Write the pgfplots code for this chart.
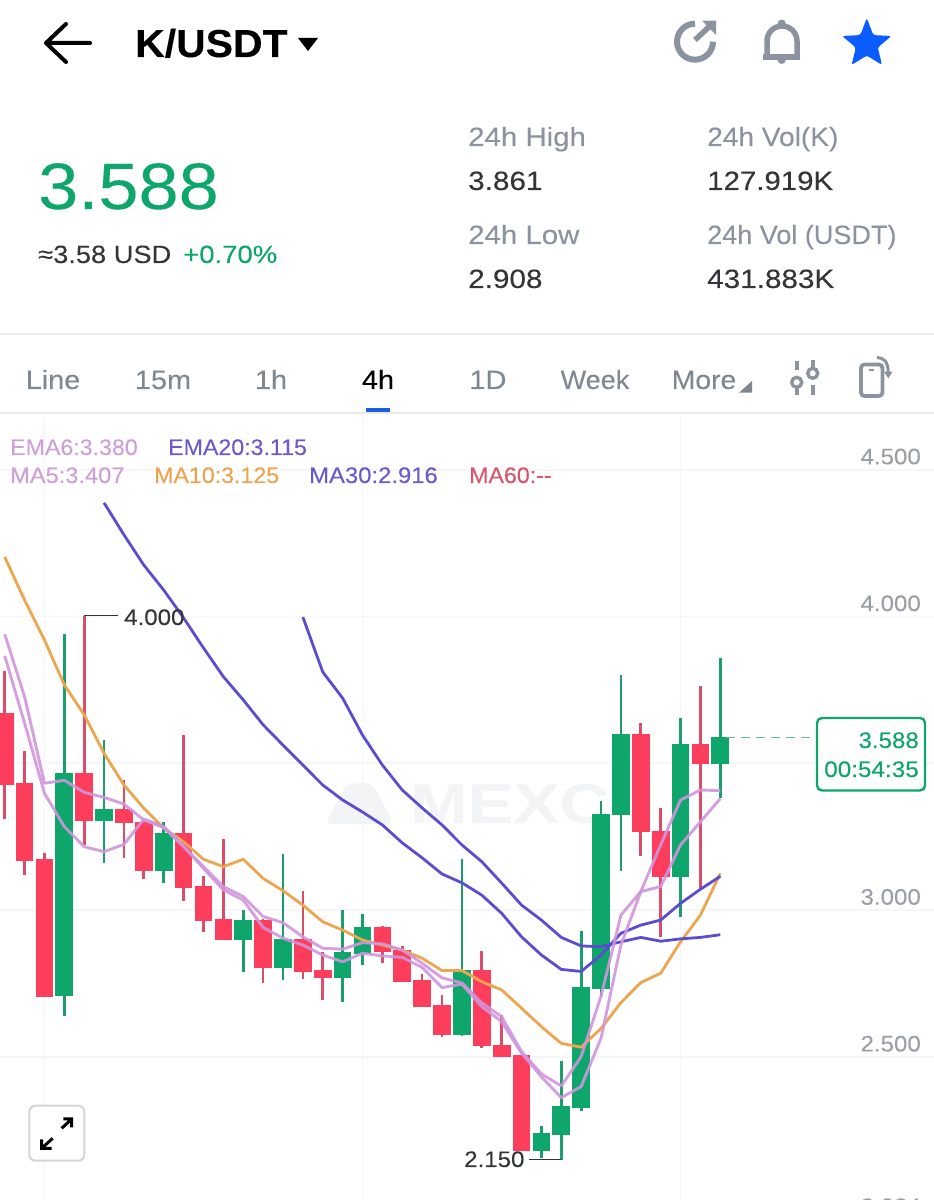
\documentclass[border=0pt]{standalone}
\usepackage{fontspec}
\setmainfont{Liberation Sans}[FakeBold=0.12]
\usepackage{graphicx}
\usepackage{pgfplots}
\usepackage{pgfplotstable}
\pgfplotsset{compat=1.18}
\definecolor{upg}{HTML}{0EA66B}
\definecolor{dnr}{HTML}{FD3D5C}
\definecolor{wickupg}{HTML}{1A9E6C}
\definecolor{wickdnr}{HTML}{DB4E69}
\definecolor{cpink}{HTML}{D095DE}
\definecolor{corange}{HTML}{EDA64F}
\definecolor{cblue}{HTML}{5B4DCF}
\definecolor{gridc}{HTML}{F5F6F7}
\definecolor{ticklab}{HTML}{9A9FA8}
\definecolor{uigrey}{HTML}{8B93A0}
\definecolor{tabgrey}{HTML}{7F8793}
\definecolor{dark}{HTML}{333538}
\definecolor{divider}{HTML}{E9EAED}
\definecolor{tabblue}{HTML}{1A5FE0}
\definecolor{starblue}{HTML}{0A5CFF}
\definecolor{lpink}{HTML}{CFA0D8}
\definecolor{lblue}{HTML}{6A5BCB}
\definecolor{lorange}{HTML}{EBA34E}
\definecolor{lred}{HTML}{D9566B}
\definecolor{wmark}{HTML}{F3F4F6}
\definecolor{lastp}{HTML}{5CC09A}
\newcommand{\lab}[7]{\node[anchor=#1,inner sep=0pt,text=#5] at (#2,#3) {\fontsize{#4}{#4}\selectfont\scalebox{#6}[1]{#7}};}
\newcommand{\candle}[6]{%
 \addplot[wick#1,line width=2.7pt] coordinates {(#2,#3)(#2,#6)};
 \addplot[#1,line width=17.7pt] coordinates {(#2,#4)(#2,#5)};
}
\pgfplotstableread{
i ema6 ma5 ma10 ema20 ma30
0 3.940 3.866 4.203 nan nan
1 3.727 3.637 4.056 nan nan
2 3.432 3.398 3.920 nan nan
3 3.442 3.284 3.767 nan nan
4 3.401 3.216 3.665 nan nan
5 3.384 3.199 3.534 4.387 nan
6 3.361 3.224 3.426 4.278 nan
7 3.307 3.310 3.347 4.175 nan
8 3.281 3.284 3.279 4.090 nan
9 3.216 3.218 3.233 3.995 nan
10 3.148 3.142 3.173 3.893 nan
11 3.080 3.069 3.148 3.795 nan
12 3.046 3.034 3.173 3.716 nan
13 2.978 2.941 3.108 3.631 nan
14 2.957 2.904 3.066 3.562 nan
15 2.909 2.881 3.017 3.494 3.998
16 2.870 2.847 2.960 3.426 3.811
17 2.867 2.824 2.932 3.375 3.722
18 2.889 2.853 2.898 3.334 3.596
19 2.885 2.844 2.881 3.290 3.494
20 2.864 2.839 2.864 3.229 3.409
21 2.819 2.805 2.836 3.178 3.348
22 2.769 2.736 2.794 3.123 3.290
23 2.752 2.748 2.794 3.093 3.222
24 2.684 2.671 2.756 3.051 3.165
25 2.637 2.620 2.728 2.989 3.092
26 2.518 2.513 2.666 2.909 3.017
27 2.442 2.432 2.603 2.847 2.966
28 2.401 2.361 2.546 2.798 2.907
29 2.501 2.399 2.533 2.791 2.878
30 2.707 2.564 2.597 2.847 2.875
31 2.983 2.881 2.685 2.921 2.892
32 3.063 3.063 2.753 2.949 2.907
33 3.080 3.222 2.785 2.966 2.894
34 3.222 3.375 2.892 3.023 2.902
35 3.301 3.409 2.983 3.071 2.907
36 3.380 3.407 3.125 3.115 2.916
}\malines
\begin{document}
\begin{tikzpicture}
\path[use as bounding box] (0,0) rectangle (934pt,1200pt);
\begin{scope}[x=1pt,y=-1pt,yshift=1200pt]
 % watermark
 \fill[wmark,rounded corners=7pt] (325,824) -- (347,783) -- (357,783) -- (372,824) -- cycle;
 \fill[wmark,rounded corners=7pt] (350,783) -- (372,783) -- (394,824) -- (362,824) -- cycle;
 \lab{base west}{410}{823}{56}{wmark}{1.23}{\bfseries MEXC}
\end{scope}
\begin{axis}[
 at={(0pt,0pt)},anchor=south west,
 scale only axis,width=934pt,height=785pt,
 xmin=-0.2364,xmax=46.75,ymin=2.0126,ymax=4.6863,
 axis line style={draw=none},
 major tick length=0pt,
 xtick={2,18,34},xticklabels={},
 ytick={2.5,3,3.5,4,4.5},
 yticklabels={\scalebox{1.07}[1]{2.500},\scalebox{1.07}[1]{3.000},{},\scalebox{1.07}[1]{4.000},\scalebox{1.07}[1]{4.500}},
 ytick pos=right,
 yticklabel style={anchor=south east,inner sep=0pt,text=ticklab,font=\fontsize{22.5}{22.5}\selectfont,xshift=-13pt,yshift=5pt},
 grid=major,grid style={gridc,line width=1.8pt},
 line join=round,
]
\candle{dnr}{0}{3.814}{3.672}{3.426}{3.310}
\candle{dnr}{1}{3.542}{3.432}{3.168}{3.121}
\candle{dnr}{2}{3.196}{3.174}{2.705}{2.703}
\candle{upg}{3}{3.939}{3.468}{2.706}{2.639}
\candle{dnr}{4}{4.000}{3.468}{3.303}{3.222}
\candle{upg}{5}{3.579}{3.343}{3.303}{3.159}
\candle{dnr}{6}{3.443}{3.343}{3.296}{3.178}
\candle{dnr}{7}{3.307}{3.301}{3.133}{3.107}
\candle{upg}{8}{3.301}{3.263}{3.133}{3.091}
\candle{dnr}{9}{3.596}{3.263}{3.074}{3.031}
\candle{dnr}{10}{3.116}{3.081}{2.962}{2.926}
\candle{dnr}{11}{3.241}{2.969}{2.897}{2.897}
\candle{upg}{12}{2.999}{2.966}{2.897}{2.788}
\candle{dnr}{13}{2.969}{2.966}{2.803}{2.751}
\candle{upg}{14}{3.190}{2.903}{2.803}{2.761}
\candle{dnr}{15}{3.066}{2.903}{2.788}{2.764}
\candle{dnr}{16}{2.858}{2.795}{2.770}{2.693}
\candle{upg}{17}{3.000}{2.857}{2.770}{2.688}
\candle{upg}{18}{2.986}{2.943}{2.851}{2.814}
\candle{dnr}{19}{2.947}{2.943}{2.858}{2.821}
\candle{dnr}{20}{2.878}{2.864}{2.756}{2.756}
\candle{dnr}{21}{2.782}{2.762}{2.670}{2.670}
\candle{dnr}{22}{2.712}{2.676}{2.576}{2.569}
\candle{upg}{23}{3.175}{2.796}{2.576}{2.570}
\candle{dnr}{24}{2.860}{2.796}{2.536}{2.531}
\candle{dnr}{25}{2.643}{2.542}{2.501}{2.501}
\candle{dnr}{26}{2.506}{2.506}{2.181}{2.181}
\candle{upg}{27}{2.265}{2.241}{2.181}{2.155}
\candle{upg}{28}{2.487}{2.333}{2.235}{2.150}
\candle{upg}{29}{2.930}{2.739}{2.327}{2.317}
\candle{upg}{30}{3.373}{3.328}{2.732}{2.705}
\candle{upg}{31}{3.800}{3.601}{3.323}{3.133}
\candle{dnr}{32}{3.636}{3.601}{3.265}{3.184}
\candle{dnr}{33}{3.349}{3.270}{3.113}{2.909}
\candle{upg}{34}{3.654}{3.566}{3.113}{2.978}
\candle{dnr}{35}{3.764}{3.566}{3.499}{3.069}
\candle{upg}{36}{3.860}{3.588}{3.499}{3.382}
\addplot[corange,line width=2.8pt] table[x=i,y=ma10]{\malines};
\addplot[cblue,line width=2.8pt] table[x=i,y=ma30]{\malines};
\addplot[cblue,line width=2.8pt] table[x=i,y=ema20]{\malines};
\addplot[cpink,line width=2.9pt,opacity=0.9] table[x=i,y=ema6]{\malines};
\addplot[cpink,line width=2.9pt,opacity=0.9] table[x=i,y=ma5]{\malines};
% last-price line and extreme leaders
\addplot[lastp,line width=1.8pt,dash pattern=on 9pt off 6pt] coordinates {(36.3,3.588)(40.85,3.588)};
\addplot[dark,line width=1.5pt] coordinates {(4,4.004)(5.7,4.004)};
\addplot[dark,line width=1.5pt] coordinates {(26.37,2.150)(28,2.150)};
\end{axis}
\begin{scope}[x=1pt,y=-1pt,yshift=1200pt]
 % header
 \draw[black,line width=4pt,line cap=round,line join=round] (66,24) -- (46,43) -- (66,62) (46,43) -- (90,43);
 \lab{base west}{135}{57}{39}{black}{1.05}{\bfseries K/USDT}
 \fill[black] (298,38) -- (318,38) -- (308,51) -- cycle;
 % share icon
 \draw[uigrey,line width=6pt] (695,23.7) arc[start angle=90,end angle=360,radius=18pt];
 \draw[uigrey,line width=5.5pt] (695,40) -- (710,26);
 \fill[uigrey] (702,20.7) -- (716,20.7) -- (716,35) -- cycle;
 % bell
 \draw[uigrey,line width=5.5pt] (767,56) -- (767,41) arc[start angle=180,end angle=0,radius=15pt] -- (797,56);
 \fill[uigrey] (762.5,54.5) rectangle (800,60);
 \fill[uigrey] (781.7,23.5) circle[radius=4pt] (781.7,60) circle[radius=4pt];
 % star
 \begin{scope}[shift={(866.8,44)}]
 \fill[starblue,rounded corners=2.5pt,line join=round] (90:26pt) -- (126:11pt) -- (162:26pt) -- (198:11.5pt) -- (234:26pt) -- (270:11.5pt) -- (306:26pt) -- (342:11.5pt) -- (18:26pt) -- (54:11pt) -- cycle;
 \end{scope}
 % price block
 \lab{base west}{38}{209}{65.6}{upg}{1.1}{3.588}
 \lab{base west}{38}{263}{25}{dark}{1.09}{≈3.58 USD}
 \lab{base west}{183}{263}{25}{upg}{1.1}{+0.70\%}
 \lab{base west}{468}{146}{26.5}{uigrey}{1.11}{24h High}
 \lab{base west}{468}{190}{26.5}{dark}{1.12}{3.861}
 \lab{base west}{468}{244}{26.5}{uigrey}{1.11}{24h Low}
 \lab{base west}{468}{288}{26.5}{dark}{1.12}{2.908}
 \lab{base west}{707}{146}{26.5}{uigrey}{1.06}{24h Vol(K)}
 \lab{base west}{707}{190}{26.5}{dark}{1.11}{127.919K}
 \lab{base west}{707}{244}{26.5}{uigrey}{1.02}{24h Vol (USDT)}
 \lab{base west}{707}{288}{26.5}{dark}{1.12}{431.883K}
 \fill[divider] (0,333) rectangle (934,335.5);
 % tabs
 \lab{base}{53}{389}{26.5}{tabgrey}{1.09}{Line}
 \lab{base}{163}{389}{26.5}{tabgrey}{1.09}{15m}
 \lab{base}{271}{389}{26.5}{tabgrey}{1.09}{1h}
 \lab{base}{378}{389}{26.5}{black}{1.09}{4h}
 \lab{base}{488}{389}{26.5}{tabgrey}{1.09}{1D}
 \lab{base}{595}{389}{26.5}{tabgrey}{1.02}{Week}
 \lab{base}{704}{389}{26.5}{tabgrey}{1.07}{More}
 \fill[tabgrey] (739,392.7) -- (752,392.7) -- (752,381) -- cycle;
 \fill[tabblue] (365.7,408) rectangle (390,411.7);
 \fill[divider] (0,412) rectangle (934,414.5);
 % sliders
 \draw[uigrey,line width=3.6pt] (796.7,361) -- (796.7,370) (796.7,388) -- (796.7,395) (812.7,360) -- (812.7,367) (812.7,385) -- (812.7,395);
 \draw[uigrey,line width=3.4pt] (796.7,382.3) circle[radius=5pt] (812.7,373.3) circle[radius=5pt];
 % phone
 \draw[uigrey,line width=3.8pt,rounded corners=3.5pt] (861,364.5) rectangle (882.5,396);
 \draw[uigrey,line width=2.6pt] (868.7,370) -- (874,370);
 \draw[uigrey,line width=3pt] (877,357.5) .. controls (884,358) and (888,361) .. (888.3,373);
 \fill[uigrey] (884,371.7) -- (892.5,371.7) -- (888.3,378.5) -- cycle;
 % legend
 \lab{base west}{10}{455}{22.5}{lpink}{1.03}{EMA6:3.380}
 \lab{base west}{168}{455}{22.5}{lblue}{1.03}{EMA20:3.115}
 \lab{base west}{10}{483}{22.5}{lpink}{1.05}{MA5:3.407}
 \lab{base west}{154}{483}{22.5}{lorange}{1.03}{MA10:3.125}
 \lab{base west}{309}{483}{22.5}{lblue}{1.06}{MA30:2.916}
 \lab{base west}{469}{483}{22.5}{lred}{1.03}{MA60:{-}{-}}
 % annotations
 \lab{base west}{124}{625}{22.5}{dark}{1.07}{4.000}
 \lab{base west}{464}{1167}{22.5}{dark}{1.07}{2.150}
 % bottom clipped tick label
 \lab{base east}{921}{1214}{22.5}{ticklab}{1.07}{2.024}
 % last price box
 \draw[upg,line width=2.4pt,fill=white,rounded corners=5pt] (817,718) rectangle (925,790.5);
 \lab{base east}{919}{748}{22.5}{upg}{1.07}{3.588}
 \lab{base east}{919}{777}{22.5}{upg}{1.08}{00:54:35}
 % expand button
 \draw[divider!80!gray,line width=2pt,fill=white,fill opacity=0.9,rounded corners=6pt] (29.3,1105.7) rectangle (84.3,1160.7);
 \draw[black,line width=3pt,line join=miter] (61.7,1128.3) -- (71.7,1119) (63.3,1119) -- (71.7,1119) -- (71.7,1127.5);
 \draw[black,line width=3pt,line join=miter] (52.7,1138.3) -- (41.7,1148.3) (41.7,1139.5) -- (41.7,1148.3) -- (51.7,1148.3);
\end{scope}
\end{tikzpicture}
\end{document}
